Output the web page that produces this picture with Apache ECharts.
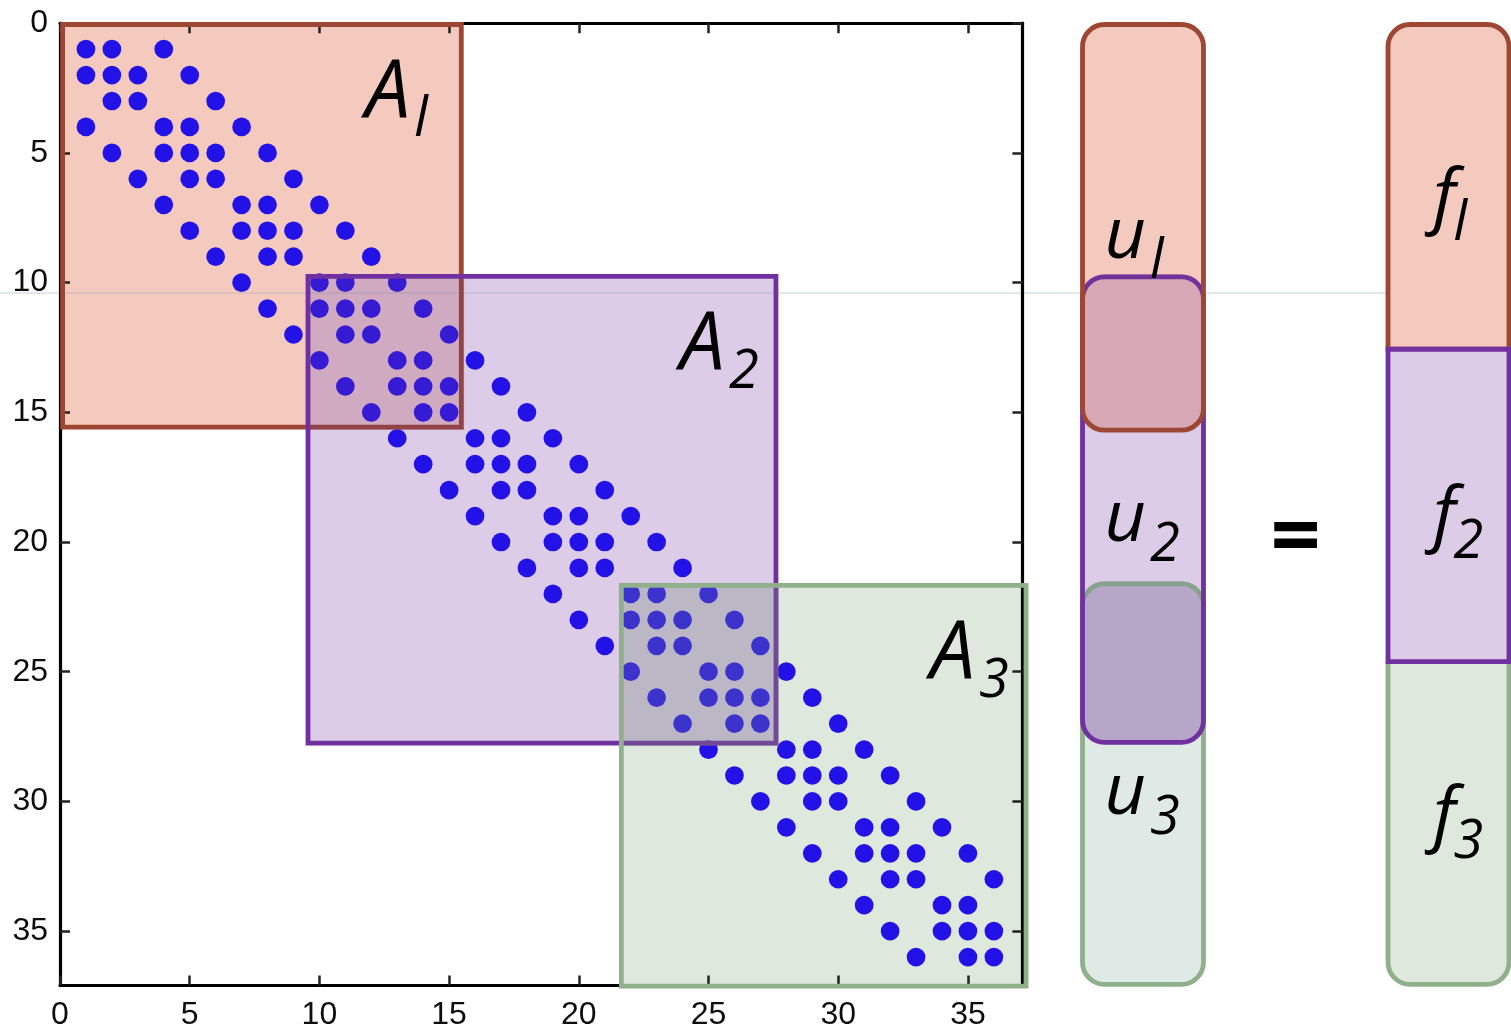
<!DOCTYPE html>
<html>
<head>
<meta charset="utf-8">
<script src="https://cdn.jsdelivr.net/npm/echarts@6/dist/echarts.min.js"></script>
<style>
  html, body { margin: 0; padding: 0; background: #ffffff; }
  #chart { width: 1511px; height: 1031px; }
</style>
</head>
<body>
<div id="chart"></div>
<script>
// Sparsity pattern of the 36x36 matrix: for each row (1..36) the columns holding a nonzero
const nonzeroCols = [
  [1, 2, 4],
  [1, 2, 3, 5],
  [2, 3, 6],
  [1, 4, 5, 7],
  [2, 4, 5, 6, 8],
  [3, 5, 6, 9],
  [4, 7, 8, 10],
  [5, 7, 8, 9, 11],
  [6, 8, 9, 12],
  [7, 10, 11, 13],
  [8, 10, 11, 12, 14],
  [9, 11, 12, 15],
  [10, 13, 14, 16],
  [11, 13, 14, 15, 17],
  [12, 14, 15, 18],
  [13, 16, 17, 19],
  [14, 16, 17, 18, 20],
  [15, 17, 18, 21],
  [16, 19, 20, 22],
  [17, 19, 20, 21, 23],
  [18, 20, 21, 24],
  [19, 22, 23, 25],
  [20, 22, 23, 24, 26],
  [21, 23, 24, 27],
  [22, 25, 26, 28],
  [23, 25, 26, 27, 29],
  [24, 26, 27, 30],
  [25, 28, 29, 31],
  [26, 28, 29, 30, 32],
  [27, 29, 30, 33],
  [28, 31, 32, 34],
  [29, 31, 32, 33, 35],
  [30, 32, 33, 36],
  [31, 34, 35],
  [32, 34, 35, 36],
  [33, 35, 36]
];

// Overlapping diagonal blocks A1, A2, A3 (column span and row span)
const blockCols = [[0.1, 15.47], [9.56, 27.6], [21.64, 37.24]];
const blockRows = [[0.05, 15.57], [9.76, 27.75], [21.67, 37.12]];
const subscripts = ['l', '2', '3'];

// Pieces of the unknown vector u (overlapping) and of the right-hand side f (disjoint), in rows
const vectorNames = ['u', 'f'];
const uRows = [[0.05, 15.69], [9.78, 27.72], [21.61, 37.05]];
const fRows = [[0.05, 12.57], [12.57, 24.61], [24.61, 37.05]];

// Axis ticks
const axisTicks = [0, 5, 10, 15, 20, 25, 30, 35];
const axisMax = 37.1;

// ---- layout and styling ----
const layout = {
  uLabelRows: [9.02, 19.92, 30.45],
  fLabelRows: [7.55, 19.81, 31.37],
  equalsAt: [0.5, 19.95],
  colHalfWidth: 0.198
};
const BW = 4.8;           // outline width
const CORNER = 22;        // rounded corner radius of vector pieces
const BASE_SHIFT = 0.27;  // distance from text middle to baseline, in em
const strokeColors = ['#9c4633', '#7030a0', '#8fb08b'];
const fillColors = ['#f4cabf', '#ddcce8', '#dee8dc'];
const uFillColors = ['#f4cabf', '#ddcce8', '#dfe9e6'];
const blockOverlapFill = ['#e9c9cf', '#d9cedf'];
const uOverlapFill = ['#f1c7c2', '#d1b8e2'];
const tints = ['rgba(120,60,140,0.22)', 'rgba(120,130,140,0.3)'];
const LABEL_FONT = '"Open Sans", "Noto Sans", sans-serif';

function pxRect(api, x0, y0, x1, y1) {
  const p0 = api.coord([x0, y0]);
  const p1 = api.coord([x1, y1]);
  return {
    x: Math.min(p0[0], p1[0]),
    y: Math.min(p0[1], p1[1]),
    width: Math.abs(p1[0] - p0[0]),
    height: Math.abs(p1[1] - p0[1])
  };
}
function intersect(a, b) {
  const x = Math.max(a.x, b.x), y = Math.max(a.y, b.y);
  const x2 = Math.min(a.x + a.width, b.x + b.width);
  const y2 = Math.min(a.y + a.height, b.y + b.height);
  return (x2 > x && y2 > y) ? { x: x, y: y, width: x2 - x, height: y2 - y } : null;
}
function grow(r, d) {
  return { x: r.x - d, y: r.y - d, width: r.width + 2 * d, height: r.height + 2 * d };
}
function rectEl(r, style, radius) {
  const shape = { x: r.x, y: r.y, width: r.width, height: r.height };
  if (radius) shape.r = radius;
  return { type: 'rect', shape: shape, style: style };
}
function textEl(str, x, y, size, align) {
  return {
    type: 'text', x: x, y: y,
    style: {
      text: str, fill: '#000', fontSize: size, fontFamily: LABEL_FONT, fontStyle: 'italic',
      align: align, verticalAlign: 'middle', textAlign: align, textVerticalAlign: 'middle'
    }
  };
}
// main letter with a lowered subscript; baseline given in pixels
function symbolWithSub(main, sub, xMainRight, xSubLeft, baseline, mainSize, subSize) {
  return [
    textEl(main, xMainRight, baseline - BASE_SHIFT * mainSize, mainSize, 'right'),
    textEl(sub, xSubLeft, baseline + 20 - BASE_SHIFT * subSize, subSize, 'left')
  ];
}

const blockData = blockCols.map((c, i) => [c[0], blockRows[i][0], c[1], blockRows[i][1]]);
const spyData = [];
nonzeroCols.forEach((cols, i) => cols.forEach(c => spyData.push([c, i + 1])));

const chart = echarts.init(document.getElementById('chart'));

const mainXAxis = (position, withLabels) => ({
  type: 'value', gridIndex: 0, position: position, min: 0, max: axisMax, interval: 5, z: 2,
  axisLine: { show: true, onZero: false, lineStyle: { color: '#000', width: 3.2 } },
  axisTick: { show: true, inside: true, length: 10, customValues: axisTicks,
              lineStyle: { color: '#222', width: 2.5 } },
  axisLabel: { show: withLabels, customValues: axisTicks, margin: 14, fontSize: 32,
               fontFamily: '"Liberation Sans", Arial, sans-serif', color: '#0d0d0d',
               formatter: v => (v % 5 === 0 ? String(v) : '') },
  splitLine: { show: false }
});
const mainYAxis = (position, withLabels) => ({
  type: 'value', gridIndex: 0, position: position, min: 0, max: axisMax, interval: 5,
  inverse: true, z: 2,
  axisLine: { show: true, onZero: false, lineStyle: { color: '#000', width: 3.2 } },
  axisTick: { show: true, inside: true, length: 10, customValues: axisTicks,
              lineStyle: { color: '#222', width: 2.5 } },
  axisLabel: { show: withLabels, customValues: axisTicks, margin: 12, fontSize: 32,
               fontFamily: '"Liberation Sans", Arial, sans-serif', color: '#0d0d0d',
               formatter: v => (v % 5 === 0 ? String(v) : '') },
  splitLine: { show: false }
});

const option = {
  backgroundColor: '#ffffff',
  animation: false,
  grid: [
    { left: 60, top: 23.2, width: 962.4, height: 962.4, containLabel: false, outerBoundsMode: 'none' },
    { left: 1081.9, top: 23.2, width: 427.7, height: 962.4, containLabel: false, outerBoundsMode: 'none' }
  ],
  xAxis: [
    mainXAxis('bottom', true),
    mainXAxis('top', false),
    { type: 'value', gridIndex: 1, min: -0.2, max: 1.2, show: false }
  ],
  yAxis: [
    mainYAxis('left', true),
    mainYAxis('right', false),
    { type: 'value', gridIndex: 1, min: 0, max: axisMax, inverse: true, show: false }
  ],
  graphic: [{
    type: 'line', z: 1.5, silent: true,
    shape: { x1: 0, y1: 293, x2: 1511, y2: 293 },
    style: { stroke: 'rgba(150,170,190,0.55)', lineWidth: 1 }
  }],
  series: [
    // block backgrounds, with the shared rows/columns shaded darker
    {
      type: 'custom', xAxisIndex: 0, yAxisIndex: 0, z: 1, clip: false, silent: true,
      data: blockData,
      renderItem: function (params, api) {
        const i = params.dataIndex;
        const r = pxRect(api, api.value(0), api.value(1), api.value(2), api.value(3));
        const children = [rectEl(r, { fill: fillColors[i] })];
        if (i > 0) {
          const p = blockData[i - 1];
          const ov = intersect(pxRect(api, p[0], p[1], p[2], p[3]), r);
          if (ov) children.push(rectEl(ov, { fill: blockOverlapFill[i - 1] }));
        }
        return { type: 'group', children: children };
      }
    },
    // nonzero entries
    {
      type: 'scatter', xAxisIndex: 0, yAxisIndex: 0, z: 3, silent: true,
      data: spyData, symbol: 'circle', symbolSize: 18.7,
      itemStyle: { color: '#2312e8', opacity: 1 }
    },
    // block outlines and names
    {
      type: 'custom', xAxisIndex: 0, yAxisIndex: 0, z: 4, clip: false, silent: true,
      data: blockData,
      renderItem: function (params, api) {
        const i = params.dataIndex;
        const r = pxRect(api, api.value(0), api.value(1), api.value(2), api.value(3));
        const children = [];
        if (i > 0) {
          const p = blockData[i - 1];
          const prev = grow(pxRect(api, p[0], p[1], p[2], p[3]), BW / 2 + 0.5);
          const ov = intersect(prev, r);
          if (ov) children.push(rectEl(ov, { fill: tints[i - 1] }));
        }
        children.push(rectEl(r, { fill: 'none', stroke: strokeColors[i], lineWidth: BW }));
        const right = r.x + r.width;
        const base = r.y + 91;
        symbolWithSub('A', subscripts[i], right - 51, right - 47, base, 80, 54)
          .forEach(t => children.push(t));
        return { type: 'group', children: children };
      }
    },
    // vector u: overlapping pieces
    {
      type: 'custom', xAxisIndex: 2, yAxisIndex: 2, z: 5, clip: false, silent: true,
      data: [[0]],
      renderItem: function (params, api) {
        const col = api.value(0);
        const hw = layout.colHalfWidth;
        const boxes = uRows.map(rr => pxRect(api, col - hw, rr[0], col + hw, rr[1]));
        const ch = [];
        for (let k = 2; k >= 0; k--) ch.push(rectEl(boxes[k], { fill: uFillColors[k] }, CORNER));
        for (let k = 1; k >= 0; k--) {
          const up = boxes[k], lo = boxes[k + 1];
          ch.push(rectEl({ x: up.x, y: lo.y, width: up.width, height: up.y + up.height - lo.y },
                         { fill: uOverlapFill[k] }, CORNER));
        }
        ch.push(rectEl(boxes[2], { fill: 'none', stroke: strokeColors[2], lineWidth: BW }, CORNER));
        for (let k = 1; k >= 0; k--) {
          const up = boxes[k], lo = boxes[k + 1];
          const y0 = lo.y - BW / 2 - 0.5;
          ch.push(rectEl({ x: up.x, y: y0, width: up.width, height: up.y + up.height - y0 },
                         { fill: tints[k] }, CORNER));
          ch.push(rectEl(up, { fill: 'none', stroke: strokeColors[k], lineWidth: BW }, CORNER));
        }
        const cx = api.coord([col, 0])[0];
        layout.uLabelRows.forEach((row, k) => {
          const base = api.coord([col, row])[1];
          symbolWithSub(vectorNames[0], subscripts[k], cx + 3, cx + 7, base, 72, 54)
            .forEach(t => ch.push(t));
        });
        return { type: 'group', children: ch };
      }
    },
    // right-hand side f: stacked pieces
    {
      type: 'custom', xAxisIndex: 2, yAxisIndex: 2, z: 5, clip: false, silent: true,
      data: [[1]],
      renderItem: function (params, api) {
        const col = api.value(0);
        const hw = layout.colHalfWidth;
        const boxes = fRows.map(rr => pxRect(api, col - hw, rr[0], col + hw, rr[1]));
        const radii = [[CORNER, CORNER, 0, 0], 0, [0, 0, CORNER, CORNER]];
        const ch = [];
        [0, 2, 1].forEach(k => {
          ch.push(rectEl(boxes[k], { fill: fillColors[k], stroke: strokeColors[k], lineWidth: BW }, radii[k]));
        });
        const cx = api.coord([col, 0])[0];
        layout.fLabelRows.forEach((row, k) => {
          const base = api.coord([col, row])[1];
          symbolWithSub(vectorNames[1], subscripts[k], cx + 7, cx + 5, base, 72, 54)
            .forEach(t => ch.push(t));
        });
        return { type: 'group', children: ch };
      }
    },
    // equals sign between the two columns
    {
      type: 'custom', xAxisIndex: 2, yAxisIndex: 2, z: 5, clip: false, silent: true,
      data: [layout.equalsAt],
      renderItem: function (params, api) {
        const p = api.coord([api.value(0), api.value(1)]);
        return {
          type: 'text', x: p[0], y: p[1],
          style: { text: '=', fill: '#000', fontSize: 88, fontWeight: 'bold', fontFamily: LABEL_FONT,
                   align: 'center', verticalAlign: 'middle', textAlign: 'center', textVerticalAlign: 'middle' }
        };
      }
    }
  ]
};

chart.setOption(option);
</script>
</body>
</html>
